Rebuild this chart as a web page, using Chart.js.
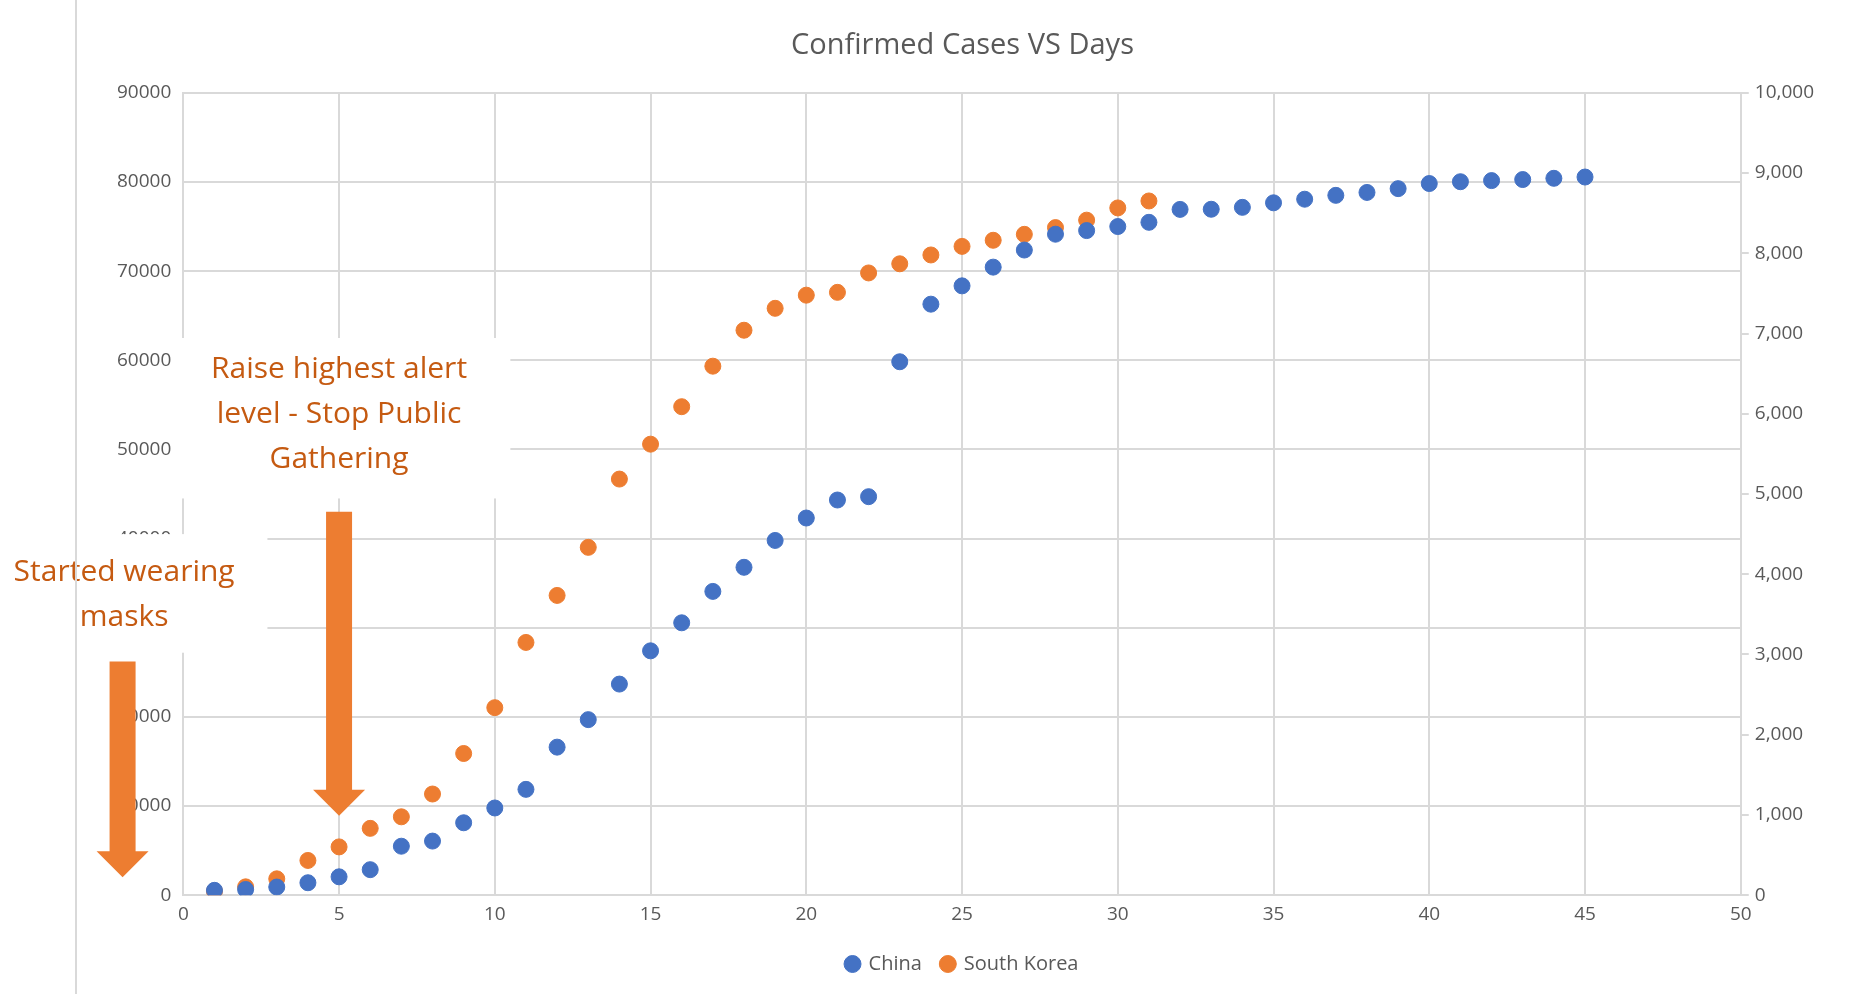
<!DOCTYPE html>
<html><head><meta charset="utf-8">
<script src="https://cdn.jsdelivr.net/npm/chart.js@4"></script>
<style>html,body{margin:0;padding:0;background:#fff;overflow:hidden}#w{width:1858px;height:994px;position:relative}</style>
</head><body><div id="w"><canvas id="c" width="1858" height="994"></canvas></div>
<script>
const days = Array.from({length:45},(_,i)=>i+1);
const china = [547,639,916,1399,2062,2863,5494,6070,8124,9783,11871,16607,19693,23680,27409,30553,34075,36778,39790,42306,44327,44699,59832,66292,68347,70446,72364,74139,74546,74999,75472,76922,76938,77152,77660,78065,78498,78824,79251,79824,80026,80151,80270,80409,80552];
const korea = [51,104,204,433,602,833,977,1261,1766,2337,3150,3736,4335,5186,5621,6088,6593,7041,7314,7478,7513,7755,7869,7979,8086,8162,8236,8320,8413,8565,8652];
const leftTicks = [0,10000,20000,30000,40000,50000,60000,70000,80000,90000];
const notes = [
  {day:5, lines:["Raise highest alert","level - Stop Public","Gathering"]},
  {day:1, lines:["Started wearing","masks"]}
];
const grid='#d9d9d9', txt='#595959';
const annot = {id:'annot', afterDraw(ch){
  const c=ch.ctx, x=ch.scales.x, y=ch.scales.y;
  c.save();
  c.fillStyle='#fff';
  c.fillRect(x.getPixelForValue(-0.3),y.getPixelForValue(62500),x.getPixelForValue(10.5)-x.getPixelForValue(-0.3),y.getPixelForValue(44500)-y.getPixelForValue(62500));
  c.fillRect(0,y.getPixelForValue(40500),x.getPixelForValue(2.7),y.getPixelForValue(27200)-y.getPixelForValue(40500));
  c.fillStyle='#c55a11'; c.font='30px "Open Sans", sans-serif'; c.textAlign='center'; c.textBaseline='middle';
  const cx1=x.getPixelForValue(5);
  notes[0].lines.forEach((l,i)=>c.fillText(l,cx1,y.getPixelForValue(59000)+i*45));
  const cx2=x.getPixelForValue(-1.9);
  notes[1].lines.forEach((l,i)=>c.fillText(l,cx2,y.getPixelForValue(36200)+i*45));
  function arrow(cx,y0,y1){
    c.fillStyle='#ed7d31';c.beginPath();
    c.moveTo(cx-13,y0);c.lineTo(cx+13,y0);c.lineTo(cx+13,y1-26);c.lineTo(cx+26,y1-26);
    c.lineTo(cx,y1);c.lineTo(cx-26,y1-26);c.lineTo(cx-13,y1-26);c.closePath();c.fill();
  }
  arrow(cx1,y.getPixelForValue(43000),y.getPixelForValue(8900));
  arrow(x.getPixelForValue(-1.95),y.getPixelForValue(26200),y.getPixelForValue(2000));
  c.restore();
}};
const F='"Open Sans", sans-serif';
new Chart(document.getElementById('c'),{
  type:'scatter',
  data:{datasets:[
    {label:'China',data:days.map((d,i)=>({x:d,y:china[i]})),backgroundColor:'#4472c4',borderColor:'#4472c4',pointRadius:8,yAxisID:'y'},
    {label:'South Korea',data:korea.map((v,i)=>({x:days[i],y:v})),backgroundColor:'#ed7d31',borderColor:'#ed7d31',pointRadius:8,yAxisID:'y2'}
  ]},
  options:{responsive:false,animation:false,devicePixelRatio:1,
    layout:{padding:{left:105,right:38,top:10,bottom:10}},
    plugins:{title:{display:true,text:'Confirmed Cases VS Days',color:txt,font:{size:29,family:F,weight:'normal'},padding:{top:18,bottom:30}},
      legend:{position:'bottom',labels:{usePointStyle:true,pointStyle:'circle',boxWidth:12,boxHeight:12,color:txt,font:{size:20,family:F},padding:20}},tooltip:{enabled:false}},
    scales:{
      x:{type:'linear',min:0,max:50,ticks:{stepSize:5,maxRotation:0,color:txt,font:{size:19,family:F},padding:8},grid:{color:grid,lineWidth:2,drawTicks:false},border:{color:grid,width:2}},
      y:{min:0,max:90000,ticks:{stepSize:10000,color:txt,font:{size:19,family:F},padding:12,callback:v=>leftTicks.includes(v)?String(v):''},grid:{color:grid,lineWidth:2,drawTicks:false},border:{color:grid,width:2}},
      y2:{position:'right',min:0,max:10000,ticks:{stepSize:1000,color:txt,font:{size:19,family:F},padding:6},grid:{drawOnChartArea:false,color:grid,lineWidth:2,tickLength:8},border:{color:grid,width:2}}
    }},
  plugins:[annot]
});
const f=document.createElement('div');f.style.cssText='position:absolute;left:75px;top:0;width:2px;height:994px;background:#d9d9d9';document.getElementById('w').appendChild(f);
</script>
</body></html>
